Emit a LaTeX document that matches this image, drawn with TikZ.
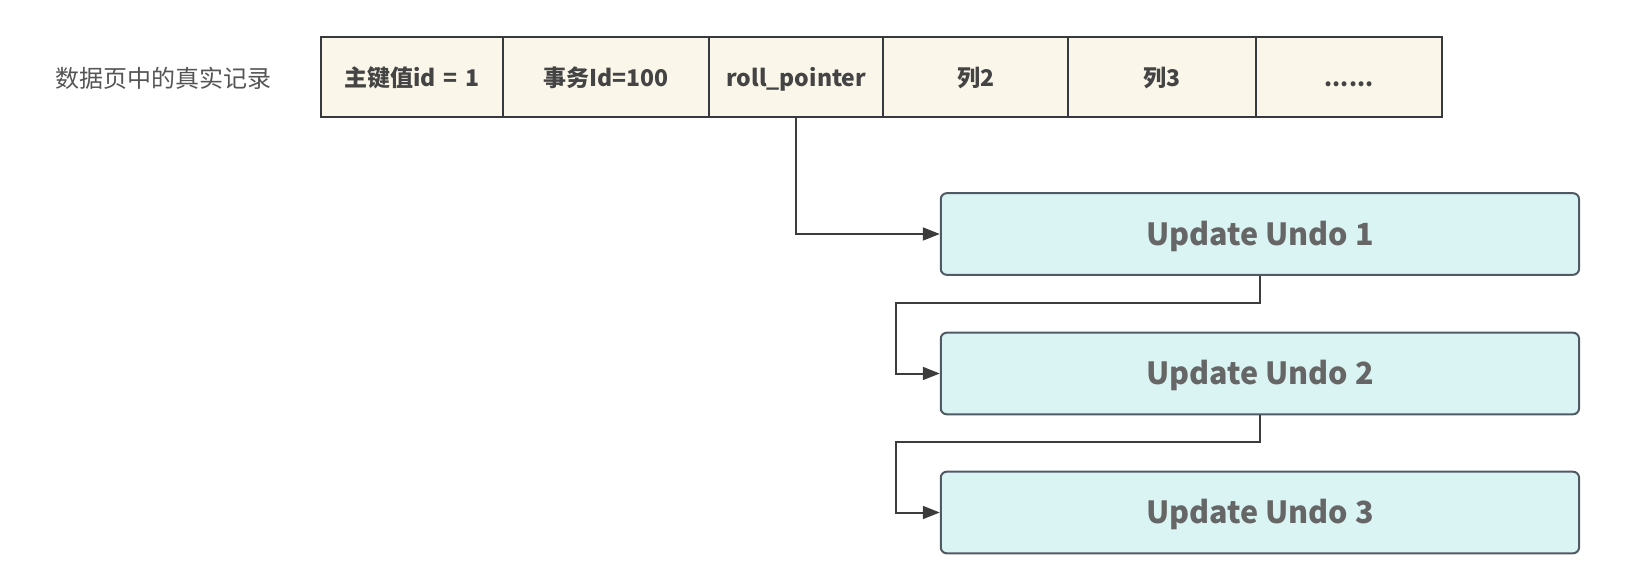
\documentclass[tikz,border=0pt]{standalone}
\usepackage{fontspec}
\setmainfont{Noto Sans CJK SC}
\usetikzlibrary{arrows.meta}
\definecolor{cellfill}{HTML}{FAF7EA}
\definecolor{cellline}{HTML}{36393D}
\definecolor{undofill}{HTML}{DAF4F4}
\definecolor{undoline}{HTML}{4F5A63}
\definecolor{undotext}{HTML}{666666}
\definecolor{celltext}{HTML}{444444}
\definecolor{lbltext}{HTML}{555555}
\definecolor{wire}{HTML}{3C3C3C}
\tikzset{
  cell/.style={draw=cellline, fill=cellfill, line width=2pt, minimum height=79.4pt, inner sep=0pt, text height=18pt, text depth=0pt, text=celltext, font=\fontsize{23}{26}\selectfont\bfseries},
  undo/.style={draw=undoline, fill=undofill, line width=2pt, rounded corners=6pt, minimum width=638.3pt, minimum height=81.6pt, inner sep=0pt, text height=22pt, text depth=0pt, text=undotext, font=\fontsize{30.5}{34}\selectfont\bfseries},
  wirestyle/.style={draw=wire, line width=2pt, -{Triangle[length=17pt,width=13pt]}},
}
\begin{document}
\begin{tikzpicture}[x=1pt,y=-1pt]
\useasboundingbox (0,0) rectangle (1648,579);
\node[text=lbltext, inner sep=0pt, text height=21pt, text depth=0pt, font=\fontsize{24}{26}\selectfont] (lbl) at (163.5,77) {数据页中的真实记录};
\node[cell, minimum width=182pt] (c1) at (411.7,77) {主键值id\,\,=\,\,1};
\node[cell, minimum width=206.6pt] (c2) at (606,77) {事务Id=100};
\node[cell, minimum width=174pt] (c3) at (796.3,77) {roll\_pointer};
\node[cell, minimum width=185pt] (c4) at (975.8,77) {列2};
\node[cell, minimum width=187.4pt] (c5) at (1162,77) {列3};
\node[cell, minimum width=186.6pt] (c6) at (1349,77) {......};
\node[undo] (u1) at (1259.9,234) {Update Undo 1};
\node[undo] (u2) at (1259.9,373.5) {Update Undo 2};
\node[undo] (u3) at (1259.9,512.5) {Update Undo 3};
\coordinate (k1) at (895.7,303);
\coordinate (k2) at (895.7,441.7);
\draw[wirestyle] (c3.south) |- (u1.west);
\draw[wirestyle] (u1.south) |- (k1) |- (u2.west);
\draw[wirestyle] (u2.south) |- (k2) |- (u3.west);
\end{tikzpicture}
\end{document}
